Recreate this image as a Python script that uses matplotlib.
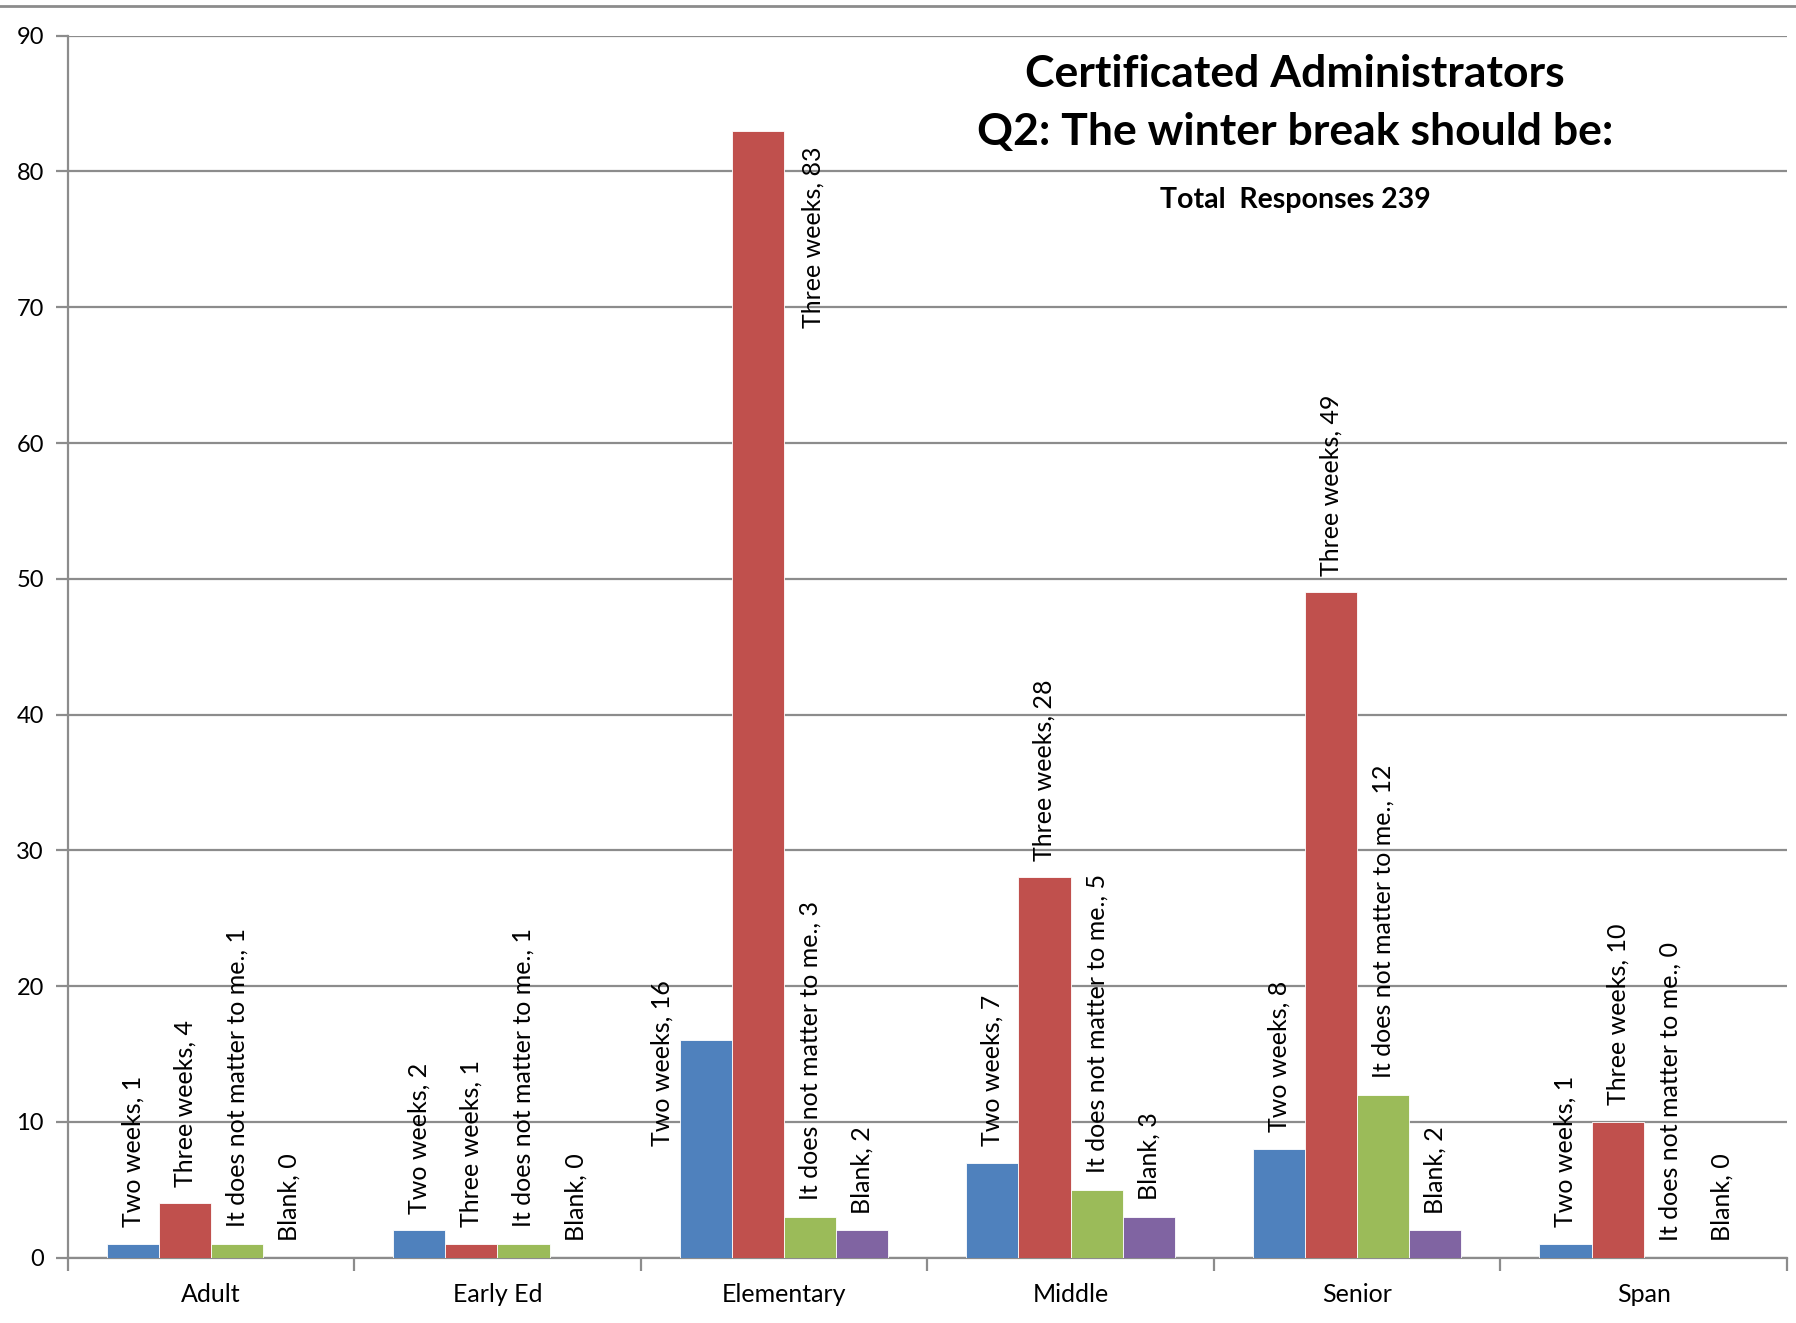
import matplotlib
matplotlib.use("Agg")
import matplotlib.pyplot as plt
from matplotlib.lines import Line2D
import numpy as np

plt.rcParams['font.family'] = ['Lato', 'DejaVu Sans']

# data
categories = ['Adult', 'Early Ed', 'Elementary', 'Middle', 'Senior', 'Span']
series_names = ['Two weeks', 'Three weeks', 'It does not matter to me.', 'Blank']
two_weeks = [1, 2, 16, 7, 8, 1]
three_weeks = [4, 1, 83, 28, 49, 10]
no_matter = [1, 1, 3, 5, 12, 0]
blank = [0, 0, 2, 3, 2, 0]
colors = ['#4F81BD', '#C0504D', '#9BBB59', '#8064A2']

# labels that Excel moved off the bar end: (category, series) -> (shift in bar widths, shift in y, anchor)
moved_labels = {(2, 0): (-0.83, -9, 'bottom'), (2, 1): (1.05, 0, 'top')}

fig = plt.figure(figsize=(17.96, 13.23), dpi=100)
ax = fig.add_axes([0.0376, 0.0494, 0.9574, 0.9236])

x = np.arange(len(categories))
w = 0.182
series = [two_weeks, three_weeks, no_matter, blank]
for i, (name, vals) in enumerate(zip(series_names, series)):
    pos = x + (i - 1.5) * w
    ax.bar(pos, vals, width=w, color=colors[i], edgecolor='white', linewidth=0.6, zorder=3)
    for j, (px, v) in enumerate(zip(pos, vals)):
        dx, dy, va = moved_labels.get((j, i), (0, 0, 'bottom'))
        off = 12 if va == 'bottom' else -11
        ax.annotate('%s, %d' % (name, v), (px + dx * w, v + dy), xytext=(0, off),
                    textcoords='offset points', rotation=90, ha='center', va=va,
                    fontsize=18, zorder=4)

ax.set_xlim(-0.5, 5.5)
ax.set_ylim(0, 90)
ax.set_yticks(range(0, 91, 10))
ax.yaxis.grid(True, color='#8c8c8c', linewidth=1.6, zorder=0)
ax.set_xticks(x)
ax.set_xticklabels(categories, fontsize=18)
ax.set_xticks(np.arange(-0.5, 6, 1), minor=True)
ax.tick_params(axis='x', which='major', length=0, pad=18)
ax.tick_params(axis='x', which='minor', length=9, width=1.6, color='#8c8c8c', direction='out')
ax.tick_params(axis='y', length=9, width=1.6, color='#8c8c8c', labelsize=17, pad=8)
for s in ['top', 'right']:
    ax.spines[s].set_visible(False)
for s in ['left', 'bottom']:
    ax.spines[s].set_color('#8c8c8c')
    ax.spines[s].set_linewidth(1.6)

# title block
fig.text(0.721, 0.944, 'Certificated Administrators', ha='center', va='center',
         fontsize=32, fontweight='bold')
fig.text(0.721, 0.900, 'Q2: The winter break should be:', ha='center', va='center',
         fontsize=32, fontweight='bold')
fig.text(0.721, 0.849, 'Total  Responses 239', ha='center', va='center',
         fontsize=20.5, fontweight='bold')

fig.add_artist(Line2D([0, 1], [0.9957, 0.9957], transform=fig.transFigure,
                      color='#8c8c8c', linewidth=2))

fig.savefig('out.png', dpi=100, facecolor='white')
